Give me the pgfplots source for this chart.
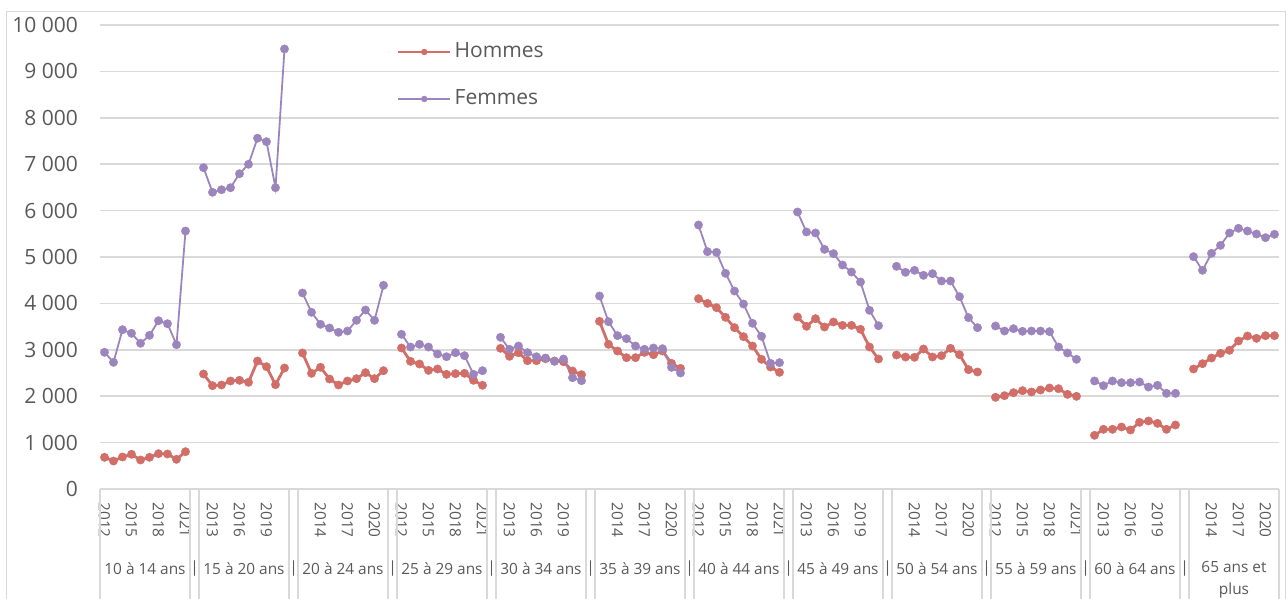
\documentclass[border=0pt]{standalone}
\usepackage{fontspec}
\setmainfont{Open Sans}
\usepackage{pgfplots}
\usepackage{pgfplotstable}
\pgfplotsset{compat=1.18}
\definecolor{hom}{HTML}{D26E68}
\definecolor{fem}{HTML}{9C85BD}
\definecolor{gridc}{HTML}{D9D9D9}
\definecolor{txt}{HTML}{595959}
\newcommand\yr{\fontsize{7.7}{9}\selectfont}
\newcommand\grp{\fontsize{7.7}{11}\selectfont}
\newcommand\bigf{\fontsize{10.5}{12}\selectfont}
\pgfplotstableread{
x h f
0 683 2946
1 603 2730
2 690 3433
3 748 3355
4 625 3140
5 683 3312
6 761 3627
7 754 3562
8 640 3110
9 804 5560
10 nan nan
11 2478 6925
12 2227 6394
13 2241 6450
14 2328 6493
15 2342 6795
16 2299 6998
17 2759 7560
18 2636 7485
19 2248 6493
20 2608 9483
21 nan nan
22 2931 4224
23 2493 3808
24 2623 3549
25 2371 3470
26 2241 3377
27 2328 3405
28 2378 3635
29 2507 3858
30 2378 3635
31 2550 4390
32 nan nan
33 3039 3334
34 2751 3060
35 2694 3118
36 2557 3060
37 2586 2909
38 2471 2851
39 2486 2938
40 2493 2873
41 2342 2471
42 2235 2550
43 nan nan
44 3032 3269
45 2860 3010
46 2938 3082
47 2765 2938
48 2765 2851
49 2808 2823
50 2759 2751
51 2744 2802
52 2543 2399
53 2464 2334
54 nan nan
55 3614 4159
56 3118 3606
57 2974 3305
58 2830 3240
59 2830 3082
60 2945 3010
61 2895 3039
62 2974 3024
63 2708 2622
64 2600 2500
65 nan nan
66 4102 5690
67 4001 5115
68 3908 5100
69 3700 4648
70 3477 4267
71 3283 3987
72 3082 3571
73 2795 3290
74 2629 2708
75 2514 2723
76 nan nan
77 3707 5970
78 3506 5539
79 3671 5517
80 3491 5165
81 3599 5072
82 3527 4828
83 3527 4677
84 3441 4461
85 3060 3851
86 2802 3520
87 nan nan
88 2888 4799
89 2845 4670
90 2838 4713
91 3017 4605
92 2845 4641
93 2873 4483
94 3032 4483
95 2895 4145
96 2572 3693
97 2522 3477
98 nan nan
99 1976 3513
100 2011 3405
101 2076 3455
102 2119 3398
103 2091 3405
104 2134 3405
105 2177 3391
106 2162 3060
107 2040 2931
108 1997 2795
109 nan nan
110 1157 2328
111 1286 2227
112 1286 2328
113 1336 2291
114 1272 2291
115 1437 2306
116 1466 2198
117 1415 2234
118 1286 2062
119 1379 2062
120 nan nan
121 2586 5007
122 2701 4713
123 2823 5079
124 2924 5251
125 2989 5517
126 3190 5618
127 3297 5560
128 3247 5496
129 3304 5417
130 3304 5489
}\data
\begin{document}
\begin{tikzpicture}
\useasboundingbox (-50pt,-55pt) rectangle (593.5pt,244.5pt);
\draw[gridc, line width=0.5pt] (-46.5pt,-60pt) rectangle (592.5pt,238.75pt);
\begin{axis}[
  at={(0pt,0pt)}, anchor=south west,
  scale only axis, width=589.5pt, height=232pt,
  xmin=-0.5, xmax=130.5, ymin=0, ymax=10000,
  axis line style={draw=none},
  clip=false,
  tick pos=left, tick align=outside,
  major tick length=0pt,
  tick style={draw=gridc, line width=0.75pt},
  ytick={0,1000,...,10000},
  scaled y ticks=false,
  /pgf/number format/1000 sep={\ },
  /pgf/number format/assume math mode=true,
  ymajorgrids, grid style={draw=gridc, line width=0.75pt},
  yticklabel style={font=\bigf, text=txt, xshift=-7.5pt},
  xtick={0,3,6,9,12,15,18,24,27,30,33,36,39,42,45,48,51,57,60,63,66,69,72,75,78,81,84,90,93,96,99,102,105,108,111,114,117,123,126,129},
  xticklabels={2012,2015,2018,2021,2013,2016,2019,2014,2017,2020,2012,2015,2018,2021,2013,2016,2019,2014,2017,2020,2012,2015,2018,2021,2013,2016,2019,2014,2017,2020,2012,2015,2018,2021,2013,2016,2019,2014,2017,2020},
  xticklabel style={rotate=-90, anchor=west, font=\yr, text=txt, inner sep=0pt},
  xticklabel shift=6.5pt,
  extra x ticks={-0.5,9.5,10.5,20.5,21.5,31.5,32.5,42.5,43.5,53.5,54.5,64.5,65.5,75.5,76.5,86.5,87.5,97.5,98.5,108.5,109.5,119.5,120.5,130.5},
  extra x tick labels={},
  extra x tick style={major tick length=60pt, tick style={draw=gridc, line width=0.75pt}},
  unbounded coords=jump,
  legend style={draw=none, fill=none, at={(0.2515,0.8912)}, anchor=west,
    font=\bigf, text=txt, row sep=10.5pt, inner sep=0pt,
    nodes={inner sep=1.5pt, text height=8pt, text depth=2pt}},
  legend cell align=left,
  legend image code/.code={\draw[#1, mark repeat=2, mark phase=2, mark size=1.5pt] plot coordinates {(0pt,0pt)(13pt,0pt)(26pt,0pt)};},
]
\addplot[hom, line width=1.4pt, mark=*, mark size=2.1pt, mark options={solid, fill=hom, draw=hom, line width=0.2pt}] table[x=x, y=h]{\data};
\addlegendentry{Hommes}
\addplot[fem, line width=0.9pt, mark=*, mark size=2.1pt, mark options={solid, fill=fem, draw=fem, line width=0.2pt}] table[x=x, y=f]{\data};
\addlegendentry{Femmes}
\node[font=\grp, text=txt, yshift=-40pt] at (axis cs:4.5,0) {10 à 14 ans};
\node[font=\grp, text=txt, yshift=-40pt] at (axis cs:15.5,0) {15 à 20 ans};
\node[font=\grp, text=txt, yshift=-40pt] at (axis cs:26.5,0) {20 à 24 ans};
\node[font=\grp, text=txt, yshift=-40pt] at (axis cs:37.5,0) {25 à 29 ans};
\node[font=\grp, text=txt, yshift=-40pt] at (axis cs:48.5,0) {30 à 34 ans};
\node[font=\grp, text=txt, yshift=-40pt] at (axis cs:59.5,0) {35 à 39 ans};
\node[font=\grp, text=txt, yshift=-40pt] at (axis cs:70.5,0) {40 à 44 ans};
\node[font=\grp, text=txt, yshift=-40pt] at (axis cs:81.5,0) {45 à 49 ans};
\node[font=\grp, text=txt, yshift=-40pt] at (axis cs:92.5,0) {50 à 54 ans};
\node[font=\grp, text=txt, yshift=-40pt] at (axis cs:103.5,0) {55 à 59 ans};
\node[font=\grp, text=txt, yshift=-40pt] at (axis cs:114.5,0) {60 à 64 ans};
\node[font=\grp, text=txt, yshift=-45.5pt, align=center] at (axis cs:125.5,0) {65 ans et\\plus};
\node[font=\grp, text=txt, yshift=-40pt] at (axis cs:10,0) {|};
\node[font=\grp, text=txt, yshift=-40pt] at (axis cs:21,0) {|};
\node[font=\grp, text=txt, yshift=-40pt] at (axis cs:32,0) {|};
\node[font=\grp, text=txt, yshift=-40pt] at (axis cs:43,0) {|};
\node[font=\grp, text=txt, yshift=-40pt] at (axis cs:54,0) {|};
\node[font=\grp, text=txt, yshift=-40pt] at (axis cs:65,0) {|};
\node[font=\grp, text=txt, yshift=-40pt] at (axis cs:76,0) {|};
\node[font=\grp, text=txt, yshift=-40pt] at (axis cs:87,0) {|};
\node[font=\grp, text=txt, yshift=-40pt] at (axis cs:98,0) {|};
\node[font=\grp, text=txt, yshift=-40pt] at (axis cs:109,0) {|};
\node[font=\grp, text=txt, yshift=-40pt] at (axis cs:120,0) {|};
\end{axis}
\end{tikzpicture}
\end{document}
